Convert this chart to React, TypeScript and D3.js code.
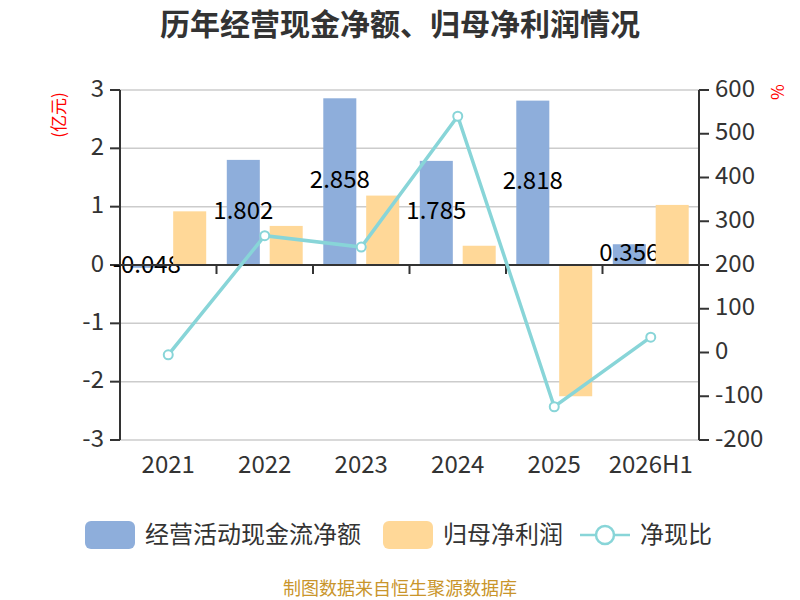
import React from 'react';
import * as d3 from 'd3';

const categories = ['2021', '2022', '2023', '2024', '2025', '2026H1'];
const cashFlow = [-0.048, 1.802, 2.858, 1.785, 2.818, 0.356];
const netProfit = [0.92, 0.67, 1.19, 0.33, -2.25, 1.03];
const ratio = [-5.2, 267, 241, 540, -124, 35];
const leftTicks = [-3, -2, -1, 0, 1, 2, 3];
const rightTicks = [-200, -100, 0, 100, 200, 300, 400, 500, 600];

const seriesNames = ['经营活动现金流净额', '归母净利润', '净现比'];
const title = '历年经营现金净额、归母净利润情况';
const source = '制图数据来自恒生聚源数据库';

const BLUE = '#8eaedb';
const ORANGE = '#ffd898';
const TEAL = '#88d5d8';
const TEXT = '#333';
const FONT = '"Noto Sans CJK SC", "Noto Sans", sans-serif';

const App: React.FC = () => {
  const width = 800;
  const height = 600;
  const plot = { left: 120, right: 699, top: 90, bottom: 440 };

  const x0 = d3.scaleBand<string>().domain(categories).range([plot.left, plot.right]);
  const x1 = d3
    .scaleBand<string>()
    .domain(['cf', 'np'])
    .range([0, x0.bandwidth()])
    .paddingInner(0.23)
    .paddingOuter(0.24);
  const yL = d3.scaleLinear().domain([-3, 3]).range([plot.bottom, plot.top]);
  const yR = d3.scaleLinear().domain([-200, 600]).range([plot.bottom, plot.top]);

  const cx = (c: string) => x0(c)! + x0.bandwidth() / 2;
  const line = d3
    .line<number>()
    .x((_, i) => cx(categories[i]))
    .y((d) => yR(d));

  const zeroY = yL(0);

  return (
    <svg
      width={width}
      height={height}
      style={{ position: 'absolute', left: 0, top: 0, fontFamily: FONT }}
    >
      <rect width={width} height={height} fill="#fff" />

      {/* title */}
      <text x={400} y={35} textAnchor="middle" fontSize={30} fontWeight="bold" fill={TEXT}>
        {title}
      </text>

      {/* unit labels */}
      <text transform="translate(60,115) rotate(-90)" textAnchor="middle" dominantBaseline="middle" fontSize={17} fill="red">
        (亿元)
      </text>
      <text transform="translate(776,92) rotate(90)" textAnchor="middle" dominantBaseline="middle" fontSize={17} fill="red">
        %
      </text>

      {/* grid lines */}
      {leftTicks.map((t) => (
        <line key={'g' + t} x1={plot.left} x2={plot.right} y1={yL(t)} y2={yL(t)} stroke="#ccc" strokeWidth={1.5} />
      ))}

      {/* left axis */}
      <line x1={plot.left} x2={plot.left} y1={plot.top} y2={plot.bottom} stroke={TEXT} strokeWidth={2} />
      {leftTicks.map((t) => (
        <g key={'l' + t}>
          <line x1={plot.left - 10} x2={plot.left} y1={yL(t)} y2={yL(t)} stroke={TEXT} strokeWidth={2} />
          <text x={plot.left - 16} y={yL(t)} textAnchor="end" dominantBaseline="middle" fontSize={24} fill={TEXT}>
            {t}
          </text>
        </g>
      ))}

      {/* right axis */}
      <line x1={plot.right} x2={plot.right} y1={plot.top} y2={plot.bottom} stroke={TEXT} strokeWidth={2} />
      {rightTicks.map((t) => (
        <g key={'r' + t}>
          <line x1={plot.right} x2={plot.right + 10} y1={yR(t)} y2={yR(t)} stroke={TEXT} strokeWidth={2} />
          <text x={plot.right + 16} y={yR(t)} textAnchor="start" dominantBaseline="middle" fontSize={24} fill={TEXT}>
            {t}
          </text>
        </g>
      ))}

      {/* category labels */}
      {categories.map((c) => (
        <text key={'c' + c} x={cx(c)} y={466} textAnchor="middle" dominantBaseline="middle" fontSize={24} fill={TEXT}>
          {c}
        </text>
      ))}

      {/* cash flow bars */}
      {categories.map((c, i) => (
        <rect
          key={'b' + c}
          x={x0(c)! + x1('cf')!}
          y={Math.min(yL(cashFlow[i]), zeroY)}
          width={x1.bandwidth()}
          height={Math.abs(yL(cashFlow[i]) - zeroY)}
          fill={BLUE}
        />
      ))}
      {categories.map((c, i) => (
        <text
          key={'bl' + c}
          x={x0(c)! + x1('cf')! + x1.bandwidth() / 2}
          y={(yL(cashFlow[i]) + zeroY) / 2}
          textAnchor="middle"
          dominantBaseline="middle"
          fontSize={24}
          fill="#000"
        >
          {cashFlow[i].toFixed(3)}
        </text>
      ))}

      {/* net profit bars */}
      {categories.map((c, i) => (
        <rect
          key={'o' + c}
          x={x0(c)! + x1('np')!}
          y={Math.min(yL(netProfit[i]), zeroY)}
          width={x1.bandwidth()}
          height={Math.abs(yL(netProfit[i]) - zeroY)}
          fill={ORANGE}
        />
      ))}

      {/* x axis at zero */}
      <line x1={plot.left} x2={plot.right} y1={zeroY} y2={zeroY} stroke={TEXT} strokeWidth={2} />
      {categories.slice(1).map((c) => (
        <line key={'xt' + c} x1={x0(c)!} x2={x0(c)!} y1={zeroY} y2={zeroY + 9} stroke={TEXT} strokeWidth={2} />
      ))}

      {/* ratio line */}
      <path d={line(ratio) || ''} fill="none" stroke={TEAL} strokeWidth={3.5} />
      {categories.map((c, i) => (
        <circle key={'p' + c} cx={cx(c)} cy={yR(ratio[i])} r={4.5} fill="#fff" stroke={TEAL} strokeWidth={2} />
      ))}

      {/* legend */}
      <g fontSize={24} fill={TEXT}>
        <rect x={85} y={521} width={50} height={28} rx={6} fill={BLUE} />
        <text x={145} y={536} dominantBaseline="middle">{seriesNames[0]}</text>
        <rect x={383} y={521} width={50} height={28} rx={6} fill={ORANGE} />
        <text x={443} y={536} dominantBaseline="middle">{seriesNames[1]}</text>
        <line x1={580} x2={630} y1={535} y2={535} stroke={TEAL} strokeWidth={2.5} />
        <circle cx={605} cy={535} r={9} fill="#fff" stroke={TEAL} strokeWidth={2.5} />
        <text x={640} y={536} dominantBaseline="middle">{seriesNames[2]}</text>
      </g>

      {/* source */}
      <text x={400} y={590} textAnchor="middle" dominantBaseline="middle" fontSize={18} fill="#c9952b">
        {source}
      </text>
    </svg>
  );
};

export default App;
